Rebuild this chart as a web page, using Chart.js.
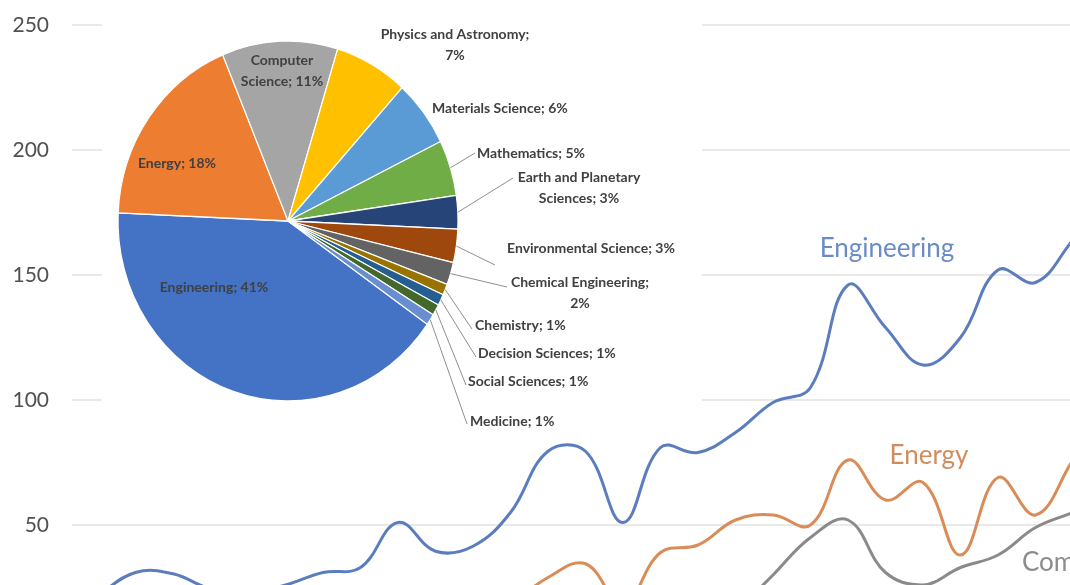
<!DOCTYPE html>
<html>
<head>
<meta charset="utf-8">
<script src="https://cdn.jsdelivr.net/npm/chart.js@4.4.1/dist/chart.umd.min.js"></script>
<style>
  html, body { margin: 0; padding: 0; background: #fff; overflow: hidden; }
  #wrap { position: relative; width: 1070px; height: 585px; }
  #wrap canvas { position: absolute; left: 0; top: 0; }
  #shareChart { pointer-events: none; }
</style>
</head>
<body>
<div id="wrap">
  <canvas id="trendChart" width="1070" height="585"></canvas>
  <canvas id="shareChart" width="1070" height="585"></canvas>
</div>
<script>
// Publications per year, by subject area
const years = [1995, 1996, 1997, 1998, 1999, 2000, 2001, 2002, 2003, 2004, 2005, 2006, 2007, 2008,
  2009, 2010, 2011, 2012, 2013, 2014, 2015, 2016, 2017, 2018, 2019, 2020, 2021];
const engineering = [22, 31, 30.5, 24.5, 23, 26, 31, 33, 51, 39.5, 41.5, 55, 79.5, 79.5,
  51, 81, 79, 87, 99, 105, 146, 129, 114, 125, 152, 147, 164];
const energy = [null, null, null, null, null, null, null, null, null, null, null, 18, 29, 34.5,
  18, 39, 42, 52, 54, 50, 76, 60, 67, 38, 69, 54, 76];
const computerScience = [null, null, null, null, null, null, null, null, null, null, null, null, null, null,
  null, null, null, 15, 30, 45, 52, 31, 26, 33, 38, 49, 55];
const seriesNames = ["Engineering", "Energy", "Computer Science"];
const yTicks = [50, 100, 150, 200, 250];

// Share of all publications by subject area (%)
const subjects = ["Engineering", "Energy", "Computer Science", "Physics and Astronomy", "Materials Science",
  "Mathematics", "Earth and Planetary Sciences", "Environmental Science", "Chemical Engineering",
  "Chemistry", "Decision Sciences", "Social Sciences", "Medicine"];
const shares = [41, 18, 11, 7, 6, 5, 3, 3, 2, 1, 1, 1, 1];

// Styling
const lineColors = ["#5b7dbe", "#d98c57", "#8a8a8a"];
const tagColors = ["#6a8bc8", "#cf8d5e", "#8c8c8c"];
const tagSpots = [
  { x: 887, y: 257, align: "center" },
  { x: 929, y: 464, align: "center" },
  { x: 1022, y: 571, align: "left" },
];
const sliceColors = ["#4472c4", "#ed7d31", "#a5a5a5", "#ffc000", "#5b9bd5", "#70ad47", "#264478",
  "#9e480e", "#636363", "#997300", "#255e91", "#43682b", "#698ed0"];
const PIE_SQUASH = 180 / 170; // the inset pie is slightly taller than wide
const shareLabelLayout = [
  { x: 214, y: 287, align: "center" },
  { x: 177, y: 163, align: "center" },
  { x: 282, y: 60, align: "center", breakAt: 1 },
  { x: 455, y: 34, align: "center", breakAt: 3 },
  { x: 432, y: 108, align: "left" },
  { x: 477, y: 153, align: "left", lead: [475, 153] },
  { x: 579, y: 177, align: "center", breakAt: 3, lead: [513, 178] },
  { x: 507, y: 248, align: "left", lead: [495, 265] },
  { x: 580, y: 282, align: "center", breakAt: 2, lead: [507, 287] },
  { x: 475, y: 325, align: "left", lead: [472, 329] },
  { x: 478, y: 353, align: "left", lead: [476, 357] },
  { x: 468, y: 381, align: "left", lead: [466, 385] },
  { x: 470, y: 421, align: "left", lead: [467, 424] },
];

function toPoints(values) {
  return years.map((yr, i) => ({ x: yr, y: values[i] }));
}

// white panel behind the inset pie, hides the grid there
const insetBackdrop = {
  id: "insetBackdrop",
  beforeDatasetsDraw(chart) {
    const ctx = chart.ctx;
    ctx.save();
    ctx.fillStyle = "#ffffff";
    ctx.fillRect(102, 0, 600, 442);
    ctx.restore();
  },
};

// series names written next to the lines
const seriesTags = {
  id: "seriesTags",
  afterDatasetsDraw(chart) {
    const ctx = chart.ctx;
    ctx.save();
    ctx.font = "26px Lato";
    ctx.textBaseline = "alphabetic";
    seriesNames.forEach((name, i) => {
      ctx.fillStyle = tagColors[i];
      ctx.textAlign = tagSpots[i].align;
      ctx.fillText(name, tagSpots[i].x, tagSpots[i].y);
    });
    ctx.restore();
  },
};

new Chart(document.getElementById("trendChart"), {
  type: "line",
  data: {
    datasets: [engineering, energy, computerScience].map((vals, i) => ({
      label: seriesNames[i],
      data: toPoints(vals),
      borderColor: lineColors[i],
      borderWidth: 3,
      pointRadius: 0,
      tension: 0.4,
      fill: false,
    })),
  },
  options: {
    responsive: false,
    animation: false,
    layout: { padding: 0 },
    plugins: { legend: { display: false }, tooltip: { enabled: false } },
    scales: {
      x: { type: "linear", min: 1994.307, max: 2020.92, display: false },
      y: {
        min: 26,
        max: 260,
        afterBuildTicks: (scale) => { scale.ticks = yTicks.map((v) => ({ value: v })); },
        afterFit: (scale) => { scale.width = 72; scale.paddingTop = 0; scale.paddingBottom = 0; },
        grid: { color: "#e9e9e9", lineWidth: 2, drawTicks: false },
        border: { display: false },
        ticks: { padding: 23, color: "#505050", font: { family: "Lato", size: 21 } },
      },
    },
  },
  plugins: [insetBackdrop, seriesTags],
});

const pieStretch = {
  id: "pieStretch",
  beforeDatasetsDraw(chart) {
    const arc = chart.getDatasetMeta(0).data[0];
    const ctx = chart.ctx;
    ctx.save();
    ctx.translate(arc.x, arc.y);
    ctx.scale(1, PIE_SQUASH);
    ctx.translate(-arc.x, -arc.y);
  },
  afterDatasetsDraw(chart) {
    chart.ctx.restore();
  },
};

// "Name; NN%" labels with leader lines for the thin slices
const shareLabels = {
  id: "shareLabels",
  afterDraw(chart) {
    const ctx = chart.ctx;
    const arcs = chart.getDatasetMeta(0).data;
    ctx.save();
    ctx.font = "bold 14px Lato";
    ctx.fillStyle = "#404040";
    ctx.strokeStyle = "#8f8f8f";
    ctx.lineWidth = 1;
    ctx.textBaseline = "middle";
    arcs.forEach((arc, i) => {
      const spot = shareLabelLayout[i];
      const words = `${subjects[i]}; ${shares[i]}%`.split(" ");
      const lines = spot.breakAt
        ? [words.slice(0, spot.breakAt).join(" "), words.slice(spot.breakAt).join(" ")]
        : [words.join(" ")];
      if (spot.lead) {
        const mid = (arc.startAngle + arc.endAngle) / 2;
        const sx = arc.x + Math.cos(mid) * arc.outerRadius;
        const sy = arc.y + Math.sin(mid) * arc.outerRadius * PIE_SQUASH;
        ctx.beginPath();
        ctx.moveTo(sx, sy);
        ctx.lineTo(spot.lead[0], spot.lead[1]);
        ctx.stroke();
      }
      ctx.textAlign = spot.align;
      lines.forEach((t, j) => ctx.fillText(t, spot.x, spot.y + j * 21));
    });
    ctx.restore();
  },
};

new Chart(document.getElementById("shareChart"), {
  type: "pie",
  data: {
    labels: subjects,
    datasets: [{
      data: shares,
      backgroundColor: sliceColors,
      borderColor: "#ffffff",
      borderWidth: 1.2,
      clip: false,
    }],
  },
  options: {
    responsive: false,
    animation: false,
    rotation: 125,
    radius: 170,
    layout: { padding: { left: 108, top: 41, right: 602, bottom: 184 } },
    plugins: { legend: { display: false }, tooltip: { enabled: false } },
  },
  plugins: [pieStretch, shareLabels],
});
</script>
</body>
</html>
